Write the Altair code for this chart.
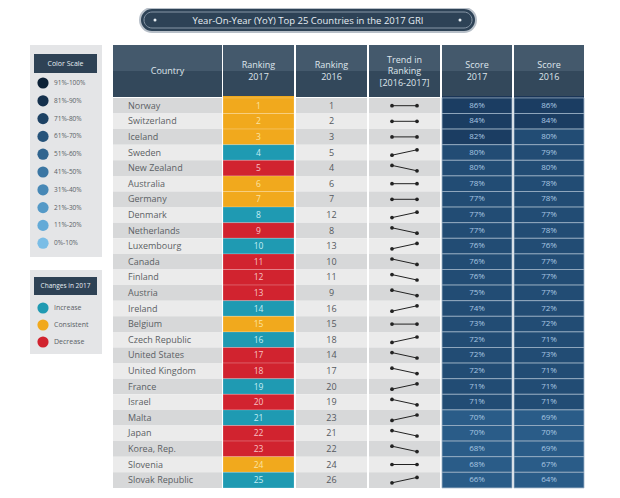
import altair as alt
import pandas as pd

# ---------------- data ----------------
TITLE = "Year-On-Year (YoY) Top 25 Countries in the 2017 GRI"
countries = ["Norway", "Switzerland", "Iceland", "Sweden", "New Zealand", "Australia",
             "Germany", "Denmark", "Netherlands", "Luxembourg", "Canada", "Finland",
             "Austria", "Ireland", "Belgium", "Czech Republic", "United States",
             "United Kingdom", "France", "Israel", "Malta", "Japan", "Korea, Rep.",
             "Slovenia", "Slovak Republic"]
rank_2017 = list(range(1, 26))
rank_2016 = [1, 2, 3, 5, 4, 6, 7, 12, 8, 13, 10, 11, 9, 16, 15, 18, 14, 17, 20, 19,
             23, 21, 22, 24, 26]
score_2017 = [86, 84, 82, 80, 80, 78, 77, 77, 77, 76, 76, 76, 75, 74, 73, 72, 72, 72,
              71, 71, 70, 70, 68, 68, 66]
score_2016 = [86, 84, 80, 79, 80, 78, 78, 77, 78, 76, 77, 77, 77, 72, 72, 71, 73, 71,
              71, 71, 69, 70, 69, 67, 64]
scale_labels = ["91%-100%", "81%-90%", "71%-80%", "61%-70%", "51%-60%", "41%-50%",
                "31%-40%", "21%-30%", "11%-20%", "0%-10%"]
change_labels = ["Increase", "Consistent", "Decrease"]
headers = [["Country"], ["Ranking", "2017"], ["Ranking", "2016"],
           ["Trend in", "Ranking", "[2016-2017]"], ["Score", "2017"], ["Score", "2016"]]

# ---------------- styles / layout ----------------
FONT = "Open Sans"
scale_colors = ["#0c2136", "#15314d", "#1d4264", "#26537a", "#30648f", "#3b76a3",
                "#4788b6", "#5499c7", "#63aad7", "#7abde6"]
table_tones = {9: "#162f52", 8: "#1b3d62", 7: "#224c74", 6: "#2a5c88", 5: "#30648f"}
change_fill = {"Increase": "#1f9ab2", "Consistent": "#f1a91d", "Decrease": "#d1232f"}
change_text = {"Increase": "#c4eef5", "Consistent": "#fbe4a3", "Decrease": "#f7c4c6"}
COLS = [(113, 222), (223, 294), (296, 367), (369, 440), (442, 512), (514, 584)]
HEAD_Y = (45, 97)
ROW0, ROWH = 97.9, 15.6

X = lambda f: alt.X(f, type="quantitative",
                    scale=alt.Scale(domain=[8, 612], nice=False, zero=False), axis=None)
Y = lambda f: alt.Y(f, type="quantitative",
                    scale=alt.Scale(domain=[8, 490], nice=False, zero=False, reverse=True),
                    axis=None)
X2 = lambda f: alt.X2(f)
Y2 = lambda f: alt.Y2(f)


def change_of(a, b):
    if a < b:
        return "Increase"
    if a == b:
        return "Consistent"
    return "Decrease"


rects, texts_c, texts_l = [], [], []

# title pill
pill = pd.DataFrame([
    dict(x=140, x2=476, y=8, y2=32, fill="#2d4256", stroke="#b7bfc8", sw=2),
])
pill_inner = pd.DataFrame([
    dict(x=144, x2=472, y=12, y2=28, fill="#2d4256", stroke="#8796a6", sw=1),
])
dots_title = pd.DataFrame([dict(x=155, y=20), dict(x=460, y=20)])
texts_c.append(dict(x=308, y=20.5, t=TITLE, c="#e6edf3", s=9.5, w="normal"))

# legend panels
rects.append(dict(x=30, x2=102, y=45, y2=257, fill="#e4e5e7", stroke="#e4e5e7", sw=0))
rects.append(dict(x=34, x2=97, y=54, y2=73, fill="#2e4255", stroke="#2e4255", sw=0))
texts_c.append(dict(x=65.5, y=63.5, t="Color Scale", c="#e6edf3", s=7, w="normal"))
rects.append(dict(x=30, x2=102, y=270, y2=354, fill="#e4e5e7", stroke="#e4e5e7", sw=0))
rects.append(dict(x=34, x2=97, y=277, y2=295, fill="#2e4255", stroke="#2e4255", sw=0))
texts_c.append(dict(x=65.5, y=286, t="Changes in 2017", c="#e6edf3", s=6.5, w="normal"))

leg_circles = []
for i, (lab, col) in enumerate(zip(scale_labels, scale_colors)):
    yy = 83 + i * 17.8
    leg_circles.append(dict(x=43, y=yy, fill=col))
    texts_l.append(dict(x=54, y=yy, t=lab, c="#5a5f66", s=6.5, w="normal"))
for i, lab in enumerate(change_labels):
    yy = 308 + i * 17
    leg_circles.append(dict(x=43, y=yy, fill=change_fill[lab]))
    texts_l.append(dict(x=54, y=yy, t=lab, c="#5a5f66", s=7, w="normal"))

# table header
for (x0, x1), lines in zip(COLS, headers):
    rects.append(dict(x=x0, x2=x1, y=HEAD_Y[0], y2=71, fill="#44596c", stroke="#44596c", sw=0))
    rects.append(dict(x=x0, x2=x1, y=71, y2=HEAD_Y[1], fill="#33485b", stroke="#33485b", sw=0))
    n = len(lines)
    for k, ln in enumerate(lines):
        yy = 71 + (k - (n - 1) / 2) * 11.5
        texts_c.append(dict(x=(x0 + x1) / 2, y=yy, t=ln, c="#dfe6ec", s=9, w="normal"))
rects.append(dict(x=COLS[1][0], x2=COLS[1][1], y=96, y2=99, fill=change_fill["Consistent"],
                  stroke="none", sw=0))
for c in (4, 5):
    rects.append(dict(x=COLS[c][0], x2=COLS[c][1], y=96, y2=99, fill="#1a3557",
                      stroke="none", sw=0))

# table rows
trend = []
for i, name in enumerate(countries):
    y0 = ROW0 + i * ROWH
    y1 = y0 + ROWH
    yc = (y0 + y1) / 2
    r17, r16 = rank_2017[i], rank_2016[i]
    ch = change_of(r17, r16)
    stripe = "#d7d8d9" if i % 2 == 0 else "#ebebeb"
    for c in (0, 2, 3):
        rects.append(dict(x=COLS[c][0], x2=COLS[c][1], y=y0, y2=y1, fill=stripe,
                          stroke="none", sw=0))
    rects.append(dict(x=COLS[1][0], x2=COLS[1][1], y=y0, y2=y1, fill=change_fill[ch],
                      stroke="#ffffff55", sw=0.6))
    for c, sc in ((4, score_2017[i]), (5, score_2016[i])):
        rects.append(dict(x=COLS[c][0], x2=COLS[c][1], y=y0, y2=y1,
                          fill=table_tones[(sc - 1) // 10], stroke="#9cb1c5", sw=0.8))
        texts_c.append(dict(x=(COLS[c][0] + COLS[c][1]) / 2, y=yc, t=f"{sc}%",
                            c="#a9c7e2", s=8, w="normal"))
    texts_l.append(dict(x=128, y=yc, t=name, c="#5b5f64", s=9, w="normal"))
    texts_c.append(dict(x=(COLS[1][0] + COLS[1][1]) / 2, y=yc, t=str(r17),
                        c=change_text[ch], s=8.5, w="normal"))
    texts_c.append(dict(x=(COLS[2][0] + COLS[2][1]) / 2, y=yc, t=str(r16),
                        c="#55595e", s=9, w="normal"))
    d = {"Increase": 2.7, "Consistent": 0.0, "Decrease": -2.7}[ch]
    trend.append(dict(x=392, y=yc + d, k=name))
    trend.append(dict(x=417, y=yc - d, k=name))

rect_df = pd.DataFrame(rects)
tc_df = pd.DataFrame(texts_c)
tl_df = pd.DataFrame(texts_l)
trend_df = pd.DataFrame(trend)
circ_df = pd.DataFrame(leg_circles)


def rect_layer(df, **kw):
    return alt.Chart(df).mark_rect(**kw).encode(
        x=X("x"), x2=X2("x2"), y=Y("y"), y2=Y2("y2"),
        fill=alt.Fill("fill:N", scale=None),
        stroke=alt.Stroke("stroke:N", scale=None),
        strokeWidth=alt.StrokeWidth("sw:Q", scale=None),
    )


layers = [
    rect_layer(pill, cornerRadius=12),
    rect_layer(pill_inner, cornerRadius=8),
    alt.Chart(dots_title).mark_circle(size=9, color="#e8eef3", opacity=1).encode(
        x=X("x"), y=Y("y")),
    rect_layer(rect_df),
    alt.Chart(circ_df).mark_circle(size=125, opacity=1).encode(
        x=X("x"), y=Y("y"), fill=alt.Fill("fill:N", scale=None)),
    alt.Chart(trend_df).mark_line(color="#222222", strokeWidth=1).encode(
        x=X("x"), y=Y("y"), detail="k:N"),
    alt.Chart(trend_df).mark_circle(size=14, color="#222222", opacity=1).encode(
        x=X("x"), y=Y("y")),
    alt.Chart(tc_df).mark_text(align="center", baseline="middle", font=FONT).encode(
        x=X("x"), y=Y("y"), text="t:N",
        color=alt.Color("c:N", scale=None), size=alt.Size("s:Q", scale=None)),
    alt.Chart(tl_df).mark_text(align="left", baseline="middle", font=FONT).encode(
        x=X("x"), y=Y("y"), text="t:N",
        color=alt.Color("c:N", scale=None), size=alt.Size("s:Q", scale=None)),
]

chart = alt.layer(*layers).properties(
    width=604, height=482, padding=0, autosize=alt.AutoSizeParams(type="none"),
    background="#ffffff",
).configure_view(stroke=None)

chart.save("out.html", embed_options={"renderer": "svg", "actions": False})
